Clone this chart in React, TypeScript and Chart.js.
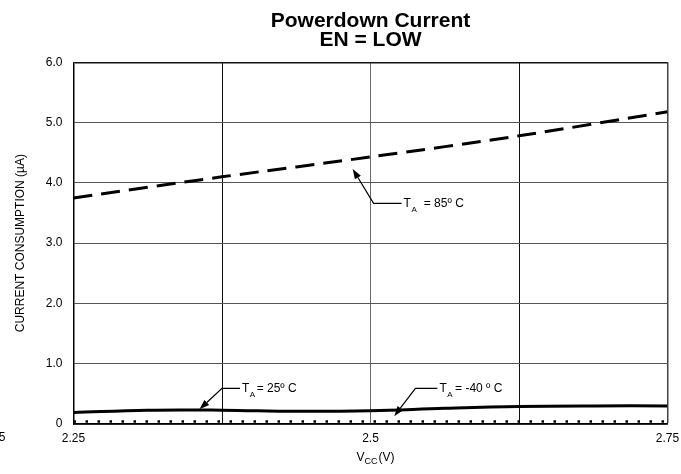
import React, { useEffect, useRef } from 'react';
import { Chart, registerables } from 'chart.js';

Chart.register(...registerables);

const FONT = "Arial, 'Liberation Sans', Helvetica, sans-serif";

// Supply voltage (V) sample points
const vcc = [2.25, 2.375, 2.5, 2.625, 2.75];
const vccFine = [2.25, 2.3125, 2.375, 2.4375, 2.5, 2.5625, 2.625, 2.6875, 2.75];

// Current consumption (uA)
const current85 = [3.75, 4.1, 4.43, 4.78, 5.18];
const current25 = [0.19, 0.23, 0.23, 0.21, 0.22, 0.26, 0.29, 0.3, 0.3];
const currentM40 = [0.04, 0.04, 0.04, 0.04, 0.04];

// Tick labels
const xGridValues = [2.25, 2.375, 2.5, 2.625, 2.75];
const xLabeledTicks = [2.25, 2.5, 2.75];
const xLabelTexts = ['2.25', '2.5', '2.75'];
const yTickValues = [0, 1, 2, 3, 4, 5, 6];
const yTickLabels = ['0', '1.0', '2.0', '3.0', '4.0', '5.0', '6.0'];

// Curve callouts (anchor points in data units)
const calloutTemps = ['85º C', '25º C', '-40 º C'];
const calloutTips = [
  [2.485, 4.23],
  [2.356, 0.245],
  [2.52, 0.13],
];
const calloutElbows = [
  [2.5026, 3.66],
  [2.375, 0.59],
  [2.5378, 0.59],
];
const calloutRuns = [28, 18, 22];
const calloutGaps = [7, 1.5, 2.5];

const calloutPlugin = {
  id: 'callouts',
  afterDatasetsDraw(chart: any) {
    const { ctx, scales } = chart;
    const x = scales.x;
    const y = scales.y;
    ctx.save();
    ctx.strokeStyle = '#000';
    ctx.fillStyle = '#000';
    ctx.lineWidth = 1.2;
    for (let i = 0; i < calloutTemps.length; i++) {
      const tx = x.getPixelForValue(calloutTips[i][0]);
      const ty = y.getPixelForValue(calloutTips[i][1]);
      const ex = x.getPixelForValue(calloutElbows[i][0]);
      const ey = y.getPixelForValue(calloutElbows[i][1]);
      const hx = ex + calloutRuns[i];
      const ang = Math.atan2(ty - ey, tx - ex);
      const headLen = 10;
      const headW = 3.5;
      const bx = tx - headLen * Math.cos(ang);
      const by = ty - headLen * Math.sin(ang);
      ctx.beginPath();
      ctx.moveTo(hx, ey);
      ctx.lineTo(ex, ey);
      ctx.lineTo(bx, by);
      ctx.stroke();
      ctx.beginPath();
      ctx.moveTo(tx, ty);
      ctx.lineTo(bx + headW * Math.sin(ang), by - headW * Math.cos(ang));
      ctx.lineTo(bx - headW * Math.sin(ang), by + headW * Math.cos(ang));
      ctx.closePath();
      ctx.fill();

      ctx.textBaseline = 'middle';
      ctx.textAlign = 'left';
      let cx = hx + 2;
      ctx.font = `12px ${FONT}`;
      ctx.fillText('T', cx, ey);
      cx += ctx.measureText('T').width;
      ctx.font = `8px ${FONT}`;
      ctx.fillText('A', cx + 0.5, ey + 6);
      cx += ctx.measureText('A').width + 0.5 + calloutGaps[i];
      ctx.font = `12px ${FONT}`;
      ctx.fillText('= ' + calloutTemps[i], cx, ey);
    }
    ctx.restore();
  },
  afterDraw(chart: any) {
    const { ctx, chartArea } = chart;
    ctx.save();
    ctx.fillStyle = '#000';
    ctx.textBaseline = 'middle';
    ctx.textAlign = 'left';
    // x-axis title with subscript
    const big = `12px ${FONT}`;
    const small = `9px ${FONT}`;
    ctx.font = big;
    const wV = ctx.measureText('V').width;
    const wP = ctx.measureText('(V)').width;
    ctx.font = small;
    const wC = ctx.measureText('CC').width;
    const total = wV + wC + 1 + wP;
    const center = (chartArea.left + chartArea.right) / 2 + 5;
    const ty = chart.height - 16;
    let cx = center - total / 2;
    ctx.font = big;
    ctx.fillText('V', cx, ty);
    cx += wV;
    ctx.font = small;
    ctx.fillText('CC', cx, ty + 4);
    cx += wC + 1;
    ctx.font = big;
    ctx.fillText('(V)', cx, ty);
    // clipped stray tick label at the far left
    ctx.textAlign = 'right';
    ctx.font = big;
    ctx.fillText('2.125', 5.5, chartArea.bottom + 14);
    ctx.restore();
  },
};

export default function App() {
  const canvasRef = useRef<HTMLCanvasElement | null>(null);

  useEffect(() => {
    document.body.style.margin = '0';
    const canvas = canvasRef.current;
    if (!canvas) return;
    const chart = new Chart(canvas, {
      type: 'line',
      data: {
        datasets: [
          {
            label: 'TA = 85º C',
            data: vcc.map((v, i) => ({ x: v, y: current85[i] })),
            borderColor: '#000',
            borderWidth: 3,
            borderDash: [19, 9],
            pointRadius: 0,
            tension: 0.3,
            fill: false,
          },
          {
            label: 'TA = 25º C',
            data: vccFine.map((v, i) => ({ x: v, y: current25[i] })),
            borderColor: '#000',
            borderWidth: 3,
            pointRadius: 0,
            tension: 0.4,
            fill: false,
          },
          {
            label: 'TA = -40 º C',
            data: vcc.map((v, i) => ({ x: v, y: currentM40[i] })),
            borderColor: '#000',
            borderWidth: 2.5,
            borderDash: [2.5, 9.5],
            borderCapStyle: 'butt',
            pointRadius: 0,
            tension: 0,
            fill: false,
          },
        ],
      },
      options: {
        animation: false,
        responsive: true,
        maintainAspectRatio: false,
        layout: { padding: { left: 0, right: 13.5, top: 0, bottom: 0 } },
        plugins: {
          legend: { display: false },
          tooltip: { enabled: false },
          title: {
            display: true,
            fullSize: false,
            text: ['Powerdown Current', 'EN = LOW'],
            color: '#000',
            font: { family: FONT, size: 21, weight: 'bold', lineHeight: 0.9 },
            padding: { top: 12, bottom: 12.5 },
          },
        },
        scales: {
          x: {
            type: 'linear',
            min: 2.25,
            max: 2.75,
            afterBuildTicks: (scale: any) => {
              scale.ticks = xGridValues.map((v) => ({ value: v }));
            },
            afterFit: (scale: any) => {
              scale.height = 50;
              scale.paddingLeft = 0;
              scale.paddingRight = 0;
            },
            ticks: {
              color: '#000',
              font: { family: FONT, size: 12 },
              padding: 7,
              maxRotation: 0,
              autoSkip: false,
              callback: (value: any) => {
                const idx = xLabeledTicks.findIndex((t) => Math.abs(t - Number(value)) < 1e-6);
                return idx >= 0 ? xLabelTexts[idx] : '';
              },
            },
            grid: {
              drawTicks: false,
              color: (c: any) => {
                const v = c.tick ? c.tick.value : 0;
                if (Math.abs(v - 2.5) < 1e-6) return '#6a6a6a';
                if (Math.abs(v - 2.75) < 1e-6) return '#444';
                return '#111';
              },
              lineWidth: (c: any) => {
                const v = c.tick ? c.tick.value : 0;
                return Math.abs(v - 2.75) < 1e-6 ? 1.5 : 1;
              },
            },
            border: { display: true, color: '#000', width: 1.5 },
            title: { display: false },
          },
          y: {
            type: 'linear',
            min: 0,
            max: 6,
            afterBuildTicks: (scale: any) => {
              scale.ticks = yTickValues.map((v) => ({ value: v }));
            },
            afterFit: (scale: any) => {
              scale.width = 73.5;
            },
            ticks: {
              color: '#000',
              font: { family: FONT, size: 12 },
              padding: 11,
              callback: (value: any) => {
                const idx = yTickValues.indexOf(Number(value));
                return idx >= 0 ? yTickLabels[idx] : '';
              },
            },
            grid: {
              drawTicks: false,
              color: (c: any) => {
                const v = c.tick ? c.tick.value : 0;
                return v === 6 ? '#111' : '#555';
              },
              lineWidth: (c: any) => {
                const v = c.tick ? c.tick.value : 0;
                return v === 6 ? 1.5 : 1;
              },
            },
            border: { display: true, color: '#000', width: 1.5 },
            title: {
              display: true,
              text: 'CURRENT CONSUMPTION (µA)',
              color: '#000',
              font: { family: FONT, size: 12 },
              padding: { top: 13, bottom: 0 },
            },
          },
        },
      },
      plugins: [calloutPlugin],
    });
    return () => {
      chart.destroy();
    };
  }, []);

  return (
    <div style={{ position: 'relative', width: '681px', height: '474px' }}>
      <canvas ref={canvasRef} />
    </div>
  );
}
